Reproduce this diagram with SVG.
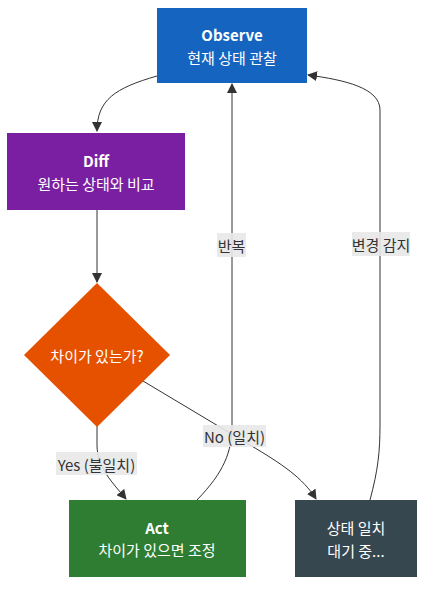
<svg xmlns="http://www.w3.org/2000/svg" width="433" height="596" viewBox="0 0 433 596">
<defs>
<marker id="arr" viewBox="0 0 10 10" refX="9" refY="5" markerWidth="10" markerHeight="10" markerUnits="userSpaceOnUse" orient="auto">
<path d="M0,0 L10,5 L0,10 z" fill="#333"/>
</marker>
<style>
.edge{fill:none;stroke:#333;stroke-width:1;marker-end:url(#arr)}
.nt{font-family:"Noto Sans CJK KR","Noto Sans",sans-serif;font-size:15px;fill:#fff;text-anchor:middle;dominant-baseline:central}
.b{font-weight:600}
.lbg{fill:#e8e8e8;opacity:0.9}
.lt{font-family:"Noto Sans CJK KR","Noto Sans",sans-serif;font-size:15px;fill:#333;text-anchor:middle;dominant-baseline:central}
</style>
</defs>
<rect width="433" height="596" fill="#fff"/>
<g id="connectors">
<path class="edge" d="M157,76 C115,88 97,100 97,131"/>
<path class="edge" d="M97,210 L97,282"/>
<path class="edge" d="M97,426 L97,445 C97,468 113,483 126,499"/>
<path class="edge" d="M143,381 L250,445 C282,464 303,478 316,499"/>
<path class="edge" d="M197,500 C224,472 232,452 232,425 L232,84"/>
<path class="edge" d="M370,500 C378,470 380,452 380,425 L380,110 C380,88 345,80 308,75"/>
<rect class="lbg" x="56" y="452" width="81" height="23"/>
<text class="lt" x="96.5" y="464">Yes (불일치)</text>
<rect class="lbg" x="203" y="425" width="63" height="22"/>
<text class="lt" x="234.5" y="436">No (일치)</text>
<rect class="lbg" x="217" y="233" width="29" height="24"/>
<text class="lt" x="231.5" y="245">반복</text>
<rect class="lbg" x="352" y="232" width="58" height="24"/>
<text class="lt" x="381" y="244">변경 감지</text>
</g>
<g id="observe">
<rect x="157" y="8" width="150" height="75" fill="#1565C0"/>
<text class="nt b" x="232" y="34">Observe</text>
<text class="nt" x="232" y="57">현재 상태 관찰</text>
</g>
<g id="diff">
<rect x="7" y="133" width="178" height="77" fill="#7B1FA2"/>
<text class="nt b" x="96" y="160">Diff</text>
<text class="nt" x="96" y="183">원하는 상태와 비교</text>
</g>
<g id="decision">
<polygon points="97,283 170,355 97,427 24,355" fill="#E65100"/>
<text class="nt" x="97" y="355">차이가 있는가?</text>
</g>
<g id="act">
<rect x="69" y="500" width="177" height="77" fill="#2E7D32"/>
<text class="nt b" x="157" y="527">Act</text>
<text class="nt" x="157" y="549">차이가 있으면 조정</text>
</g>
<g id="wait">
<rect x="295" y="500" width="122" height="77" fill="#37474F"/>
<text class="nt" x="356" y="527">상태 일치</text>
<text class="nt" x="356" y="550">대기 중...</text>
</g>
</svg>
